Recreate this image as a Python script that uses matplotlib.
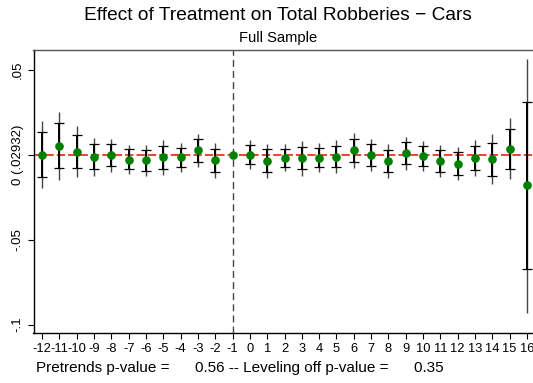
import matplotlib
matplotlib.use("Agg")
import matplotlib.pyplot as plt
import numpy as np

plt.rcParams['font.family'] = ['Liberation Sans', 'DejaVu Sans']
plt.rcParams['lines.scale_dashes'] = False

# event time
periods = [-12, -11, -10, -9, -8, -7, -6, -5, -4, -3, -2, -1, 0, 1, 2, 3, 4, 5,
           6, 7, 8, 9, 10, 11, 12, 13, 14, 15, 16]
# point estimates
coef = [0.0, 0.005, 0.0015, -0.0015, -0.0005, -0.003, -0.0034, -0.0017, -0.0017,
        0.0025, -0.0034, 0.0, -0.0003, -0.0038, -0.0019, -0.0022, -0.0019, -0.0013,
        0.0025, -0.0003, -0.0038, 0.0007, -0.0009, -0.0038, -0.0054, -0.0022,
        -0.0028, 0.0034, -0.0181]
# 95% CI (thin spikes)
ci95_lo = [-0.0195, -0.015, -0.0134, -0.0126, -0.0105, -0.0117, -0.0126, -0.012,
           -0.0105, -0.0072, -0.0136, np.nan, -0.0085, -0.0136, -0.0095, -0.0125,
           -0.0101, -0.0107, -0.0078, -0.0099, -0.0136, -0.0091, -0.0095, -0.013,
           -0.0152, -0.0126, -0.0173, -0.0146, -0.093]
ci95_hi = [0.0197, 0.0252, 0.0168, 0.0099, 0.0091, 0.0056, 0.0054, 0.0085, 0.0069,
           0.012, 0.0066, np.nan, 0.0085, 0.006, 0.006, 0.0081, 0.0066, 0.0085,
           0.0128, 0.0093, 0.006, 0.0105, 0.0081, 0.0056, 0.0046, 0.0083, 0.0119,
           0.0213, 0.0562]
# 90% CI (capped)
ci90_lo = [-0.013, -0.0081, -0.0081, -0.0085, -0.007, -0.0087, -0.0095, -0.0083,
           -0.0075, -0.0042, -0.0105, np.nan, -0.0058, -0.0105, -0.0072, -0.0087,
           -0.0075, -0.0075, -0.0042, -0.0068, -0.0103, -0.0058, -0.0068, -0.0101,
           -0.012, -0.0091, -0.0125, -0.0083, -0.0673]
ci90_hi = [0.013, 0.0187, 0.0115, 0.0062, 0.006, 0.003, 0.0026, 0.005, 0.004,
           0.0089, 0.0032, np.nan, 0.0056, 0.003, 0.0032, 0.0046, 0.0036, 0.005,
           0.0093, 0.0064, 0.0028, 0.0074, 0.0052, 0.0026, 0.0013, 0.0052, 0.0069,
           0.0152, 0.0307]

ytick_vals = [-0.1, -0.05, 0.0, 0.05]
ytick_labels = ['-.1', '-.05', '0 (.02932)', '.05']
pretrend_p = 0.56
leveling_p = 0.35

x = np.array(periods, dtype=float)
b = np.array(coef)
lo95, hi95 = np.array(ci95_lo), np.array(ci95_hi)
lo90, hi90 = np.array(ci90_lo), np.array(ci90_hi)

W, H = 533, 383
fig = plt.figure(figsize=(W / 100, H / 100), dpi=100)
ax = fig.add_axes([33.5 / W, 50 / H, 502 / W, 283 / H])

ax.axhline(0, color='#e2381e', lw=1.3, dashes=(6, 2.2), zorder=1)
ax.axvline(-1, color='#444444', lw=1.0, dashes=(5, 3), zorder=1)

ok = ~np.isnan(lo95)
ax.vlines(x[ok], lo95[ok], hi95[ok], color='#444444', lw=1.0, zorder=2)
ax.errorbar(x[ok], b[ok], yerr=[b[ok] - lo90[ok], hi90[ok] - b[ok]], fmt='none',
            ecolor='black', elinewidth=1.4, capsize=3.6, capthick=0.9, zorder=3)
ax.plot(x, b, 'o', color='#008000', ms=5.2, mec='#008000', zorder=4)

ax.set_xlim(-12.5, 16.5)
ax.set_ylim(-0.105, 0.0615)
ax.set_xticks(periods)
ax.set_xticklabels([str(p) for p in periods], fontsize=9.3)
ax.set_yticks(ytick_vals)
ax.set_yticklabels(ytick_labels, rotation=90, va='center', fontsize=9.5)
ax.tick_params(axis='x', length=4, width=0.8, pad=3)
ax.tick_params(axis='y', length=4, width=0.8, pad=3)
for s in ['left', 'bottom', 'top']:
    ax.spines[s].set_linewidth(1.0)
ax.spines['top'].set_color('#555555')
ax.spines['right'].set_visible(False)

fig.text(278 / W, 1 - 15 / H, 'Effect of Treatment on Total Robberies \u2212 Cars',
         ha='center', va='center', fontsize=13.8)
fig.text(278 / W, 1 - 38 / H, 'Full Sample', ha='center', va='center', fontsize=10.6)
fig.text(36 / W, 1 - 368 / H,
         'Pretrends p-value =      %.2f -- Leveling off p-value =      %.2f'
         % (pretrend_p, leveling_p), ha='left', va='center', fontsize=11)

fig.savefig('out.png', dpi=100)
